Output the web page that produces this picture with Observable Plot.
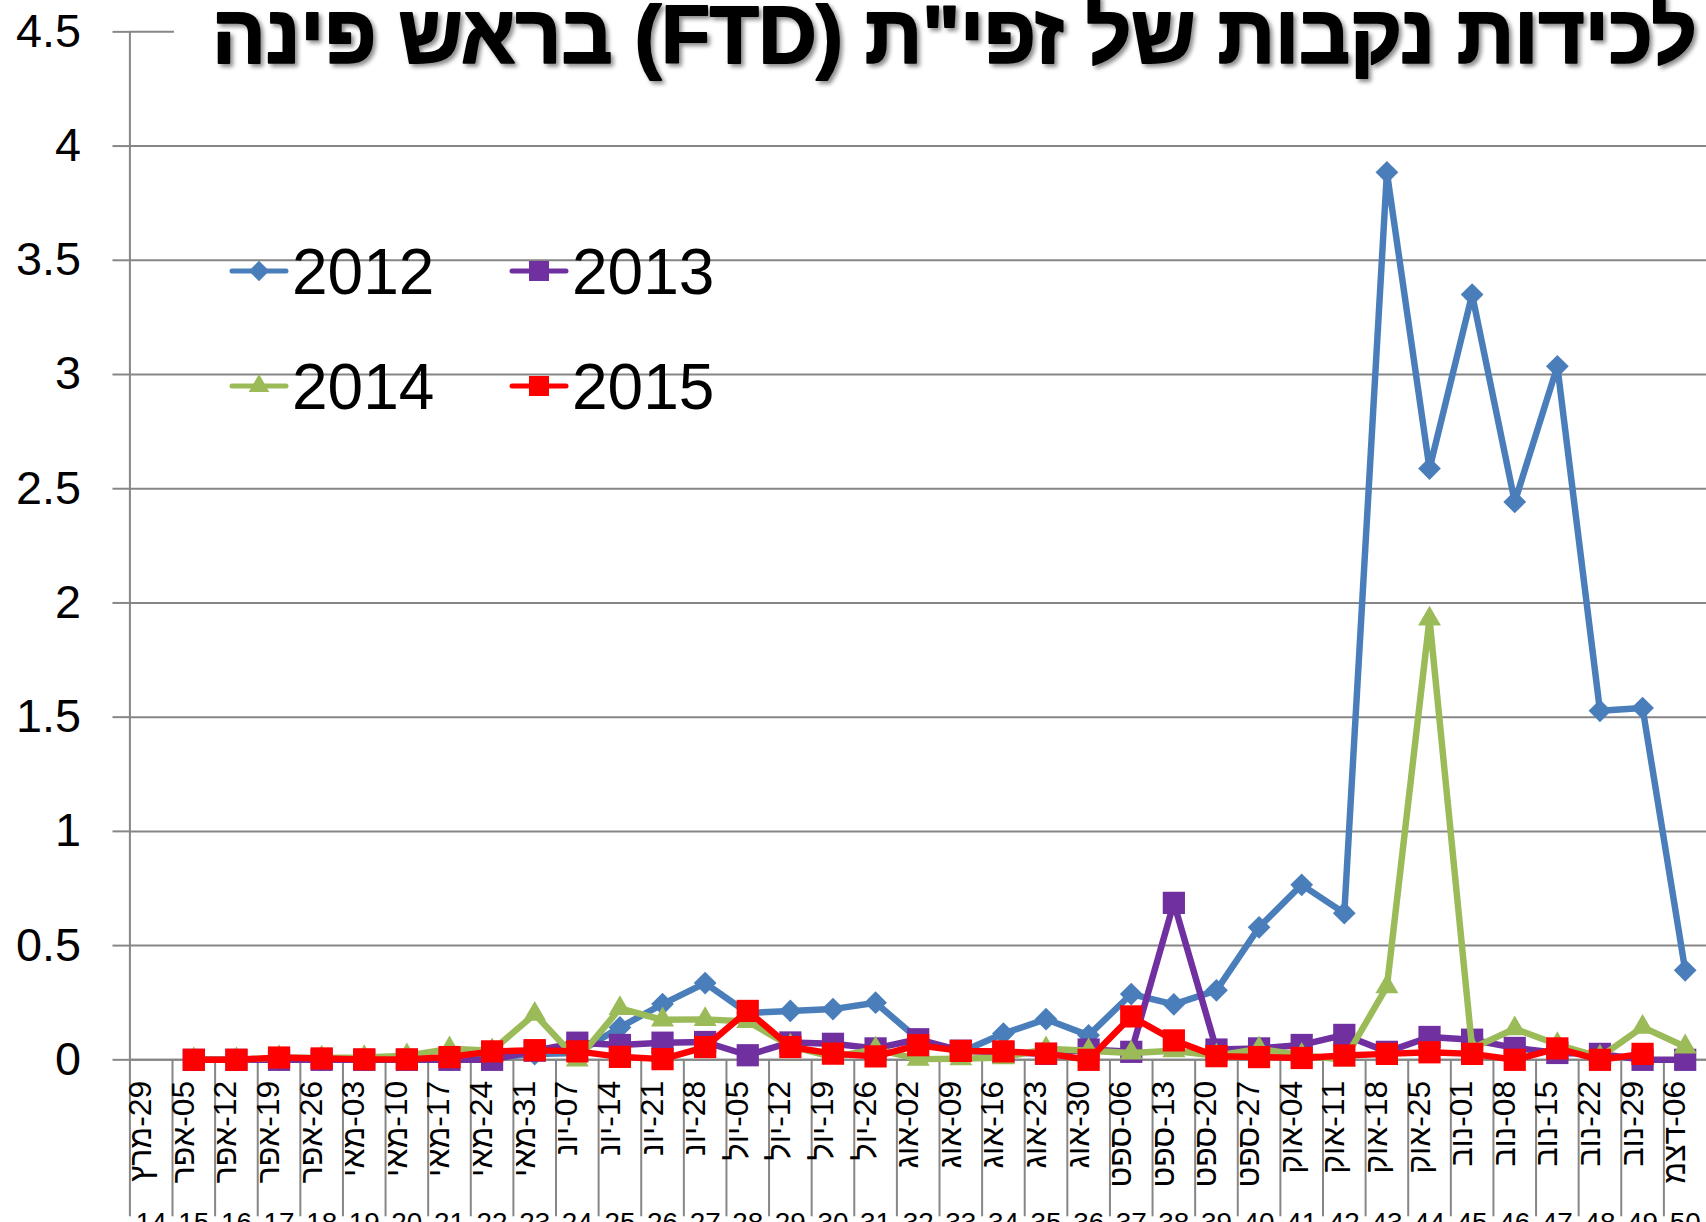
<!DOCTYPE html>
<html>
<head>
<meta charset="utf-8">
<script src="https://cdn.jsdelivr.net/npm/d3@7"></script>
<script src="https://cdn.jsdelivr.net/npm/@observablehq/plot@0.6"></script>
<style>
  html, body { margin: 0; padding: 0; background: #fff; overflow: hidden; width: 1706px; height: 1222px; }
  #wrap { position: relative; width: 1706px; height: 1222px; overflow: hidden; background: #fff; }
  #chart { position: absolute; left: 0; top: 0; }
  #overlay { position: absolute; left: 0; top: 0; }
</style>
</head>
<body>
<div id="wrap">
  <div id="chart"></div>
  <svg id="overlay" width="1706" height="1222"></svg>
</div>
<script>
// ---------------- data ----------------
const title = 'לכידות נקבות של זפי"ת (FTD) בראש פינה';
const dates = ["29-מרץ","05-אפר","12-אפר","19-אפר","26-אפר","03-מאי","10-מאי","17-מאי","24-מאי","31-מאי",
  "07-יונ","14-יונ","21-יונ","28-יונ","05-יול","12-יול","19-יול","26-יול","02-אוג","09-אוג",
  "16-אוג","23-אוג","30-אוג","06-ספט","13-ספט","20-ספט","27-ספט","04-אוק","11-אוק","18-אוק",
  "25-אוק","01-נוב","08-נוב","15-נוב","22-נוב","29-נוב","06-דצמ"];
const weeks = [14,15,16,17,18,19,20,21,22,23,24,25,26,27,28,29,30,31,32,33,34,35,36,37,38,39,40,41,42,43,44,45,46,47,48,49,50];
const yTicks = [0,0.5,1,1.5,2,2.5,3,3.5,4,4.5];
const seriesNames = ["2012","2013","2014","2015"];
const seriesColors = ["#4A7EBB","#7030A0","#9BBB59","#FF0000"];
const v2012 = [null,0,0,0,0,0,0,0,0.01,0.025,0.03,0.142,0.244,0.336,0.205,0.214,0.222,0.25,0.09,0.033,
  0.115,0.178,0.107,0.288,0.243,0.304,0.58,0.766,0.642,3.885,2.588,3.35,2.442,3.036,1.528,1.54,0.392];
const v2013 = [null,0,0,0,0,0,0,0,0,0.04,0.075,0.065,0.075,0.078,0.02,0.076,0.07,0.05,0.09,0.04,
  0.033,0.026,0.045,0.035,0.687,0.045,0.05,0.065,0.109,0.035,0.1,0.088,0.052,0.03,0.026,0,0];
const v2014 = [null,0,0,0.01,0.008,0.01,0.018,0.048,0.04,0.2,0,0.225,0.175,0.177,0.168,0.06,0.012,0.047,0.003,0.005,
  0.01,0.048,0.04,0.03,0.04,0.018,0.048,0.02,0,0.32,1.93,0.05,0.136,0.067,0.012,0.143,0.057];
const v2015 = [null,0,0,0.01,0.006,0.002,0.002,0.012,0.037,0.042,0.037,0.013,0.003,0.056,0.214,0.056,0.027,0.015,0.064,0.039,
  0.037,0.027,0,0.19,0.085,0.016,0.012,0.008,0.019,0.026,0.033,0.026,0,0.05,0,0.026,null];

// ---------------- build ----------------
const seriesValues = [v2012, v2013, v2014, v2015];
const symbols = ["diamond2", "square", "triangle2", "square"];
const radii = [10.3, 12.6, 11.0, 12.6];
const series = seriesNames.map((name, k) => ({
  name, color: seriesColors[k], symbol: symbols[k], r: radii[k],
  rows: seriesValues[k].map((v, i) => ({date: dates[i], value: v})).filter(d => d.value != null)
}));
const weekRows = dates.map((d, i) => ({date: d, week: weeks[i]}));

const W = 1714, H = 1222, ML = 130, MT = 31.5, MB = H - 1064.3;
const bw = (W - ML) / dates.length;
const grey = "#868686";
const FONT = '"Liberation Sans", Arial, "DejaVu Sans", sans-serif';

const chart = Plot.plot({
  width: W, height: H,
  marginLeft: ML, marginRight: 0, marginTop: MT, marginBottom: MB,
  x: {type: "band", domain: dates, paddingInner: 0, paddingOuter: 0, axis: null},
  y: {domain: [0, 4.5], axis: null},
  style: {fontFamily: FONT, background: "transparent", overflow: "visible", color: "black"},
  marks: [
    Plot.gridY(yTicks, {stroke: grey, strokeOpacity: 1, strokeWidth: 2}),
    Plot.axisY(yTicks, {tickSize: 17, tickPadding: 32, fontSize: 47, stroke: grey, strokeWidth: 2,
      tickFormat: d => String(d), label: null}),
    Plot.ruleY([0], {stroke: grey, strokeWidth: 2}),
    Plot.ruleX([dates[0]], {dx: -bw / 2, stroke: grey, strokeWidth: 2}),
    Plot.ruleX(dates, {x: d => d, y1: 0, dx: -bw / 2, insetBottom: -MB, stroke: grey, strokeWidth: 2}),
    Plot.text(dates, {x: d => d, text: d => "\u200F" + d, frameAnchor: "bottom", dy: 21, rotate: -90,
      textAnchor: "end", fontSize: 32, fill: "black"}),
    Plot.text(weekRows, {x: "date", text: d => String(d.week), frameAnchor: "bottom", dy: 153,
      lineAnchor: "top", fontSize: 28, fill: "black"}),
    ...series.flatMap(s => [
      Plot.line(s.rows, {x: "date", y: "value", stroke: s.color, strokeWidth: 6.5}),
      Plot.dot(s.rows, {x: "date", y: "value", symbol: s.symbol, r: s.r, fill: s.color, stroke: "none"})
    ])
  ]
});
document.getElementById("chart").appendChild(chart);

// ---------------- overlay: title + legend ----------------
const ov = d3.select("#overlay");
const defs = ov.append("defs");
defs.append("filter").attr("id", "sh").attr("x", "-5%").attr("y", "-30%").attr("width", "110%").attr("height", "160%")
  .append("feDropShadow").attr("dx", 3).attr("dy", 3).attr("stdDeviation", 2)
  .attr("flood-color", "#000").attr("flood-opacity", 0.45);

ov.append("rect").attr("x", 174).attr("y", 0).attr("width", 1532).attr("height", 100).attr("fill", "#fff");
const tg = ov.append("g");
const tt = tg.append("text")
  .attr("x", 0).attr("y", 0)
  .attr("text-anchor", "middle")
  .attr("direction", "rtl")
  .style("font-family", FONT).style("font-weight", "bold").style("font-size", "82px")
  .attr("fill", "#000").attr("stroke", "#000").attr("stroke-width", 2).attr("stroke-linejoin", "round")
  .attr("filter", "url(#sh)")
  .text(title);
const tw = tt.node().getBBox().width;
const targetW = 1697 - 212;
tg.attr("transform", `translate(${(212 + 1697) / 2},63) scale(${targetW / tw},1)`);

const legendPos = [[232, 271], [512, 271], [232, 386], [512, 386]];
const d3sym = {diamond2: d3.symbolDiamond2, square: d3.symbolSquare, triangle2: d3.symbolTriangle2};
series.forEach((s, k) => {
  const [lx, ly] = legendPos[k];
  const g = ov.append("g");
  g.append("line").attr("x1", lx).attr("x2", lx + 54).attr("y1", ly).attr("y2", ly)
    .attr("stroke", s.color).attr("stroke-width", 5).attr("stroke-linecap", "round");
  g.append("path").attr("transform", `translate(${lx + 27},${ly})`)
    .attr("d", d3.symbol(d3sym[s.symbol], Math.PI * s.r * s.r * 0.8)()).attr("fill", s.color);
  g.append("text").attr("x", lx + 60).attr("y", ly + 23)
    .style("font-family", FONT).style("font-size", "64px").attr("fill", "#000")
    .text(s.name);
});
</script>
</body>
</html>
